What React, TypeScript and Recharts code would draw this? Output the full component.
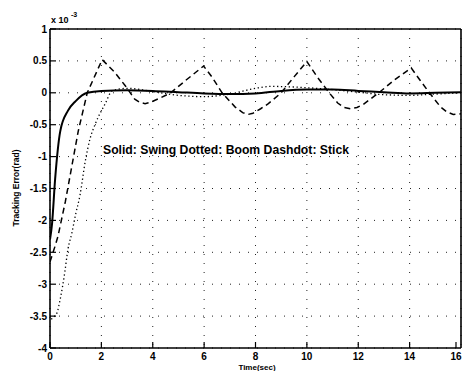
import React from "react";
import { LineChart, Line, XAxis, YAxis, CartesianGrid, Customized } from "recharts";

const xTicks = [0, 2, 4, 6, 8, 10, 12, 14, 16];
const yTicks = [1, 0.5, 0, -0.5, -1, -1.5, -2, -2.5, -3, -3.5, -4];

// Solid: Swing
const swingT = [0, 0.08, 0.2, 0.4, 0.7, 1.0, 1.45, 2, 3, 4, 5, 6, 7, 8, 9, 10, 11, 12, 13, 14, 15, 16];
const swingV = [-2.3, -2.05, -1.35, -0.6, -0.28, -0.13, 0, 0.03, 0.04, 0.03, 0.01, -0.01, -0.02, -0.01, 0.03, 0.05, 0.05, 0.03, 0.01, -0.01, 0, 0.01];

// Dotted: Boom
const boomT = [0.05, 0.13, 0.27, 0.4, 0.58, 0.7, 0.85, 1.0, 1.17, 1.37, 1.56, 1.76, 2.15, 2.42, 3, 4, 5, 6, 7, 8, 8.6, 10, 11, 12, 13, 14, 15, 16];
const boomV = [-3.55, -3.52, -3.45, -3.23, -2.8, -2.45, -2.2, -1.9, -1.6, -1.08, -0.72, -0.49, -0.17, 0.03, 0.07, 0.02, -0.04, -0.06, -0.02, 0.07, 0.1, 0.08, 0.05, 0.01, -0.03, -0.04, -0.02, 0];

// Dashdot: Stick
const stickT = [0, 0.2, 0.31, 0.6, 1.1, 1.45, 2.03, 2.5, 2.93, 3.3, 3.5, 3.7, 3.9, 4.3, 4.7, 5.3, 5.98, 6.3, 6.7, 7.2, 7.5, 7.7, 7.9, 8.2, 8.5, 9.0, 9.5, 10.0, 10.4, 10.87, 11.2, 11.45, 11.7, 11.95, 12.2, 12.8, 13.4, 14.06, 14.4, 14.77, 15.2, 15.45, 15.7, 16];
const stickV = [-2.65, -2.4, -2.25, -1.7, -0.6, 0, 0.52, 0.33, 0.11, -0.1, -0.15, -0.17, -0.15, -0.08, 0, 0.2, 0.42, 0.25, 0, -0.22, -0.31, -0.34, -0.32, -0.25, -0.17, 0, 0.25, 0.49, 0.25, 0, -0.16, -0.23, -0.25, -0.23, -0.18, 0, 0.2, 0.39, 0.2, 0, -0.22, -0.3, -0.34, -0.33];

const swingData = swingT.map((t, i) => ({ t, v: swingV[i] }));
const boomData = boomT.map((t, i) => ({ t, v: boomV[i] }));
const stickData = stickT.map((t, i) => ({ t, v: stickV[i] }));

const FONT = "'Liberation Sans', Arial, Helvetica, sans-serif";

const fmt = (v: number) => (v < 0 ? "-" + String(Math.abs(v)) : String(v));

const BottomTick = (p: any) => (
  <g>
    <line x1={p.x} y1={p.y} x2={p.x} y2={p.y - 6} stroke="#000" strokeWidth={1.2} />
    <text x={p.x} y={p.y + 12} textAnchor="middle" fontFamily={FONT} fontWeight="bold" fontSize={10} fill="#000">
      {fmt(p.payload.value)}
    </text>
  </g>
);
const TopTick = (p: any) => (
  <line x1={p.x} y1={p.y} x2={p.x} y2={p.y + 6} stroke="#000" strokeWidth={1.2} />
);
const LeftTick = (p: any) => (
  <g>
    <line x1={p.x} y1={p.y} x2={p.x + 6} y2={p.y} stroke="#000" strokeWidth={1.2} />
    <text x={p.x - 3} y={p.y + 3.5} textAnchor="end" fontFamily={FONT} fontWeight="bold" fontSize={10} fill="#000">
      {fmt(p.payload.value)}
    </text>
  </g>
);
const RightTick = (p: any) => (
  <line x1={p.x} y1={p.y} x2={p.x - 6} y2={p.y} stroke="#000" strokeWidth={1.2} />
);

const Annotations = () => (
  <g fontFamily={FONT} fontWeight="bold" fill="#000">
    <text x={103} y={154} fontSize={12} textLength={246} lengthAdjust="spacingAndGlyphs">
      Solid: Swing  Dotted: Boom  Dashdot: Stick
    </text>
    <text x={51} y={23} fontSize={9}>x 10</text>
    <text x={71} y={17} fontSize={7}>-3</text>
    <text x={257} y={370} fontSize={8} textAnchor="middle">Time(sec)</text>
    <text x={19} y={188} fontSize={8.5} textAnchor="middle" transform="rotate(-90 19 188)">
      Tracking Error(rad)
    </text>
  </g>
);

export default function App() {
  return (
    <div style={{ position: "absolute", left: 0, top: 0, width: 464, height: 371, background: "#fff" }}>
      <LineChart width={464} height={371} margin={{ top: 0, right: 0, bottom: 0, left: 0 }}>
        <CartesianGrid stroke="#222" strokeDasharray="1 8" strokeWidth={1} />
        <XAxis
          dataKey="t"
          type="number"
          domain={[0, 16]}
          ticks={xTicks}
          height={23}
          tickSize={0}
          tickMargin={0}
          tick={BottomTick}
          axisLine={{ stroke: "#000", strokeWidth: 1.6 }}
          allowDataOverflow
        />
        <XAxis
          xAxisId="top"
          orientation="top"
          dataKey="t"
          type="number"
          domain={[0, 16]}
          ticks={xTicks}
          height={29}
          tickSize={0}
          tickMargin={0}
          tick={TopTick}
          axisLine={{ stroke: "#000", strokeWidth: 1.6 }}
        />
        <YAxis
          type="number"
          domain={[-4, 1]}
          ticks={yTicks}
          width={50}
          tickSize={0}
          tickMargin={0}
          tick={LeftTick}
          axisLine={{ stroke: "#000", strokeWidth: 1.6 }}
          allowDataOverflow
        />
        <YAxis
          yAxisId="right"
          orientation="right"
          type="number"
          domain={[-4, 1]}
          ticks={yTicks}
          width={3}
          tickSize={0}
          tickMargin={0}
          tick={RightTick}
          axisLine={{ stroke: "#000", strokeWidth: 1.6 }}
        />
        <Line data={boomData} dataKey="v" type="monotone" stroke="#000" strokeWidth={1.3} strokeDasharray="1.3 2.6" dot={false} isAnimationActive={false} />
        <Line data={stickData} dataKey="v" type="linear" stroke="#000" strokeWidth={1.5} strokeDasharray="6 4" dot={false} isAnimationActive={false} />
        <Line data={swingData} dataKey="v" type="monotone" stroke="#000" strokeWidth={2} dot={false} isAnimationActive={false} />
        <Customized component={Annotations} />
      </LineChart>
    </div>
  );
}
